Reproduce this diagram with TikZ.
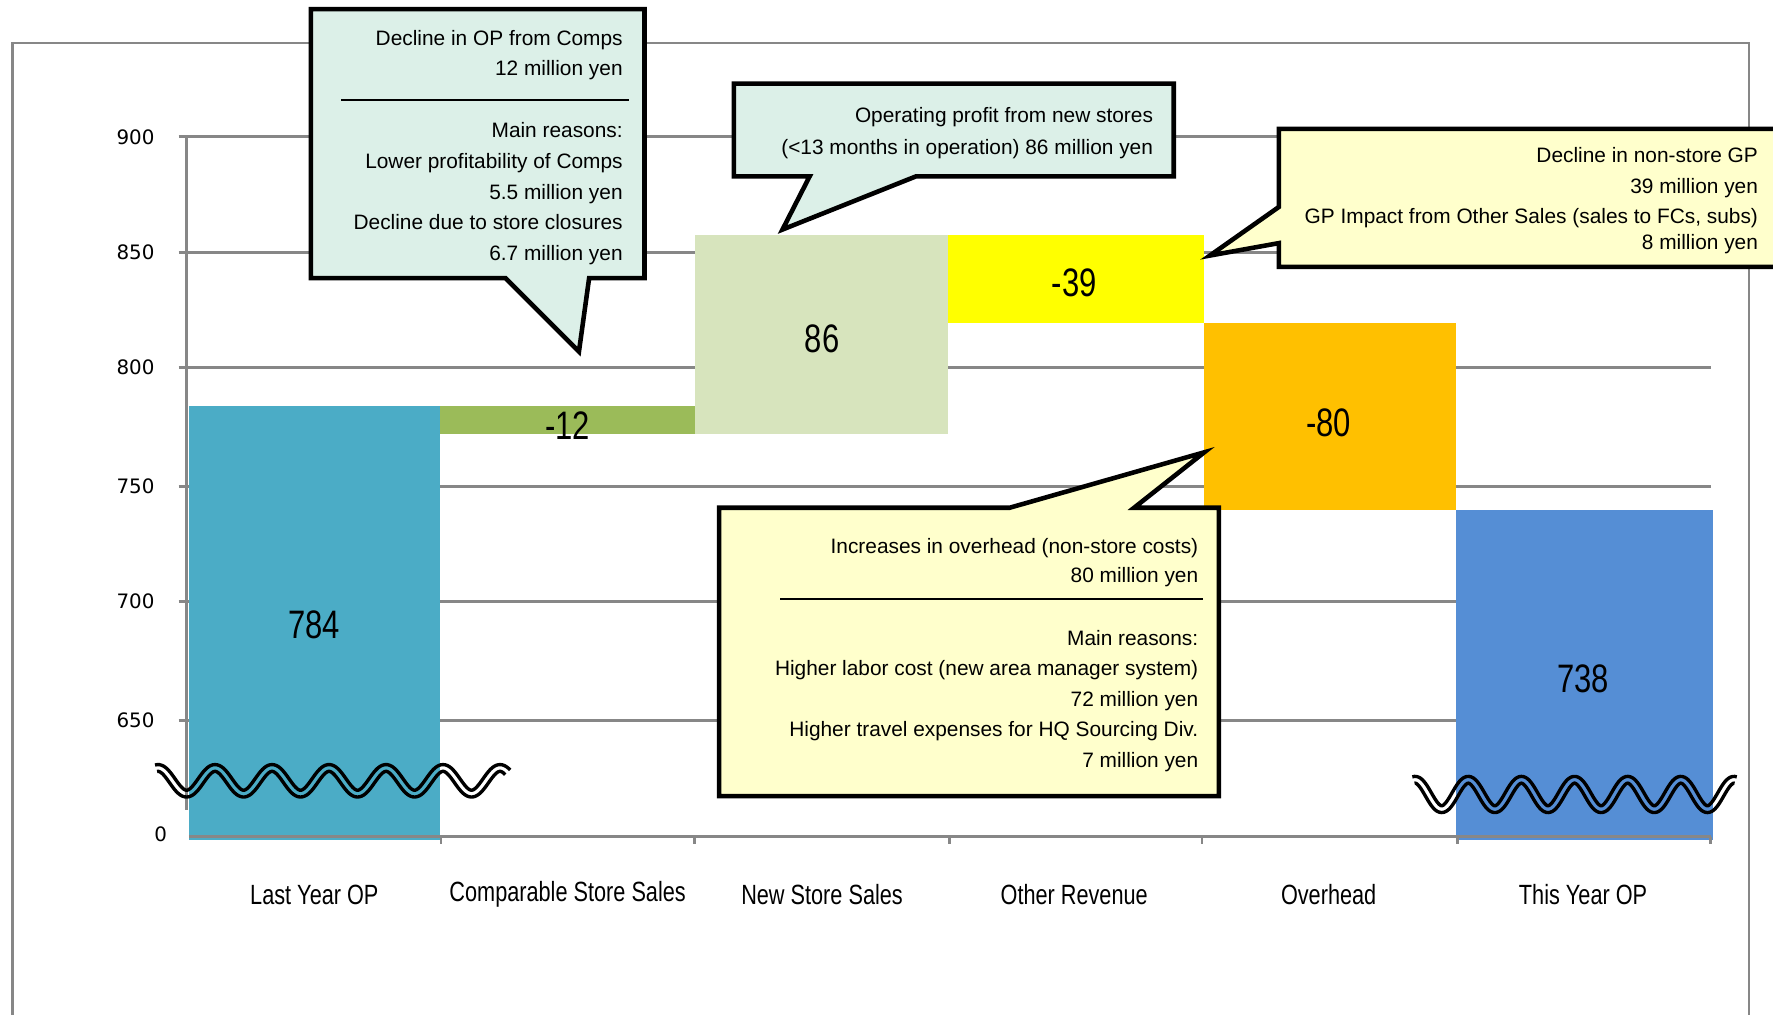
\documentclass[tikz,border=0pt]{standalone}
\usepackage{fontspec}
\setmainfont{Liberation Sans}
\newfontfamily\narrowfont{Liberation Sans}[FakeStretch=0.78]
\newfontfamily\tickfont{DejaVu Sans}

\definecolor{axisgray}{HTML}{878787}
\definecolor{lastop}{HTML}{4BACC6}
\definecolor{compgreen}{HTML}{9BBB59}
\definecolor{newgreen}{HTML}{D7E4BD}
\definecolor{otheryellow}{HTML}{FFFF00}
\definecolor{overorange}{HTML}{FFC000}
\definecolor{thisop}{HTML}{558ED5}
\definecolor{mintnote}{HTML}{DCF0E8}
\definecolor{yellownote}{HTML}{FFFFCC}

\begin{document}
\begin{tikzpicture}[x=0.02cm, y=-0.02cm,
    grid/.style = {draw=axisgray, line width=1.4pt},
    note/.style = {font=\fontsize{10.5}{12}\selectfont, anchor=base east, inner sep=0pt},
    cat/.style = {font=\narrowfont\fontsize{14}{16}\selectfont, inner sep=0pt},
    val/.style = {font=\narrowfont\fontsize{20}{24}\selectfont, inner sep=0pt},
    tick/.style = {font=\tickfont\fontsize{10}{12}\selectfont, anchor=east, inner sep=0pt},
    callout/.style = {draw=black, line width=2.3pt, line join=miter},
    wave/.style = {draw=black, line width=1.7pt}]
    \useasboundingbox (0,0) rectangle (1568,897);
    \clip (0,0) rectangle (1568,897);
    % frame
    \draw [draw=axisgray, line width=1.2pt] (11,920) -- (11,38) -- (1547,38) -- (1547,920);
    % grid and y axis
    \foreach \y/\v in {121/900, 223/850, 325/800, 430/750, 532/700, 637/650} {
        \draw [grid] (158,\y) -- (1513,\y);
        \node [tick] (y\v) at (137,\y) {\v};
    }
    \draw [grid] (165,121) -- (165,716);
    \node [tick] (y0) at (148,738) {0};
    % bars
    \fill [lastop] (167,359) rectangle (389,743);
    \fill [compgreen] (389,359) rectangle (615,384);
    \fill [newgreen] (615,208) rectangle (838,384);
    \fill [otheryellow] (838,208) rectangle (1065,286);
    \fill [overorange] (1065,286) rectangle (1288,451);
    \fill [thisop] (1288,451) rectangle (1515,743);
    \draw [grid] (167,740) -- (1513,740);
    \foreach \x in {390,614,840,1063,1289,1513}
        \draw [grid] (\x,740) -- (\x,746);
    \node [val] (v784) at (278,553) {784};
    \node [val] (v12) at (502,376) {-12};
    \node [val] (v86) at (727,300) {86};
    \node [val] (v39) at (950,250) {-39};
    \node [val] (v80) at (1175,374) {-80};
    \node [val] (v738) at (1400,600) {738};
    \node [cat] (lastyear) at (278,791) {Last Year OP};
    \node [cat] (comps) at (502,791) {Comparable Store Sales};
    \node [cat] (newstore) at (727,791) {New Store Sales};
    \node [cat] (otherrev) at (950,791) {Other Revenue};
    \node [cat] (overhead) at (1175,791) {Overhead};
    \node [cat] (thisyear) at (1400,791) {This Year OP};
    % axis breaks (two parallel waves each)
    \foreach \s in {-3,3} {
        \draw [wave] plot [domain=138:449, samples=240]
            ({\x + \s*1.415*sin((\x-165)*7.1429)/sqrt(1+(1.415*sin((\x-165)*7.1429))^2)},
             {690.5 + 11.35*cos((\x-165)*7.1429) + \s/sqrt(1+(1.415*sin((\x-165)*7.1429))^2)});
        \draw [wave] plot [domain=1250:1535, samples=240]
            ({\x + \s*1.738*sin((\x-1275)*7.6596)/sqrt(1+(1.738*sin((\x-1275)*7.6596))^2)},
             {702.6 + 13*cos((\x-1275)*7.6596) + \s/sqrt(1+(1.738*sin((\x-1275)*7.6596))^2)});
    }
    % comps callout
    \filldraw [callout, fill=mintnote] (275,8) -- (570,8) -- (570,246) -- (521,246) -- (512,311) -- (447,246) -- (275,246) -- cycle;
    \draw [line width=1pt] (302,88) -- (556,88);
    \node [note] (c1) at (551,39.8) {Decline in OP from Comps};
    \node [note] (c2) at (551,67.2) {12 million yen};
    \node [note] (c3) at (551,121.5) {Main reasons:};
    \node [note] (c4) at (551,148.9) {Lower profitability of Comps};
    \node [note] (c5) at (551,176.3) {5.5 million yen};
    \node [note] (c6) at (551,202.8) {Decline due to store closures};
    \node [note] (c7) at (551,230) {6.7 million yen};
    % new stores callout
    \filldraw [callout, fill=mintnote] (649,74) -- (1038,74) -- (1038,156) -- (810,156) -- (692,203) -- (716,156) -- (649,156) -- cycle;
    \node [note] (n1) at (1020,108.5) {Operating profit from new stores};
    \node [note] (n2) at (1020,136.5) {(<13 months in operation) 86 million yen};
    % other revenue callout
    \filldraw [callout, fill=yellownote] (1131,114) -- (1600,114) -- (1600,236) -- (1131,236) -- (1131,215) -- (1070,226) -- (1131,183) -- cycle;
    \node [note] (g1) at (1555,143.5) {Decline in non-store GP};
    \node [note] (g2) at (1555,171.5) {39 million yen};
    \node [note] (g3) at (1555,197.5) {GP Impact from Other Sales (sales to FCs, subs)};
    \node [note] (g4) at (1555,220.5) {8 million yen};
    % overhead callout
    \filldraw [callout, fill=yellownote] (636,449) -- (893,449) -- (1065,400) -- (1003,449) -- (1078,449) -- (1078,704) -- (636,704) -- cycle;
    \draw [line width=1pt] (690,530) -- (1064,530);
    \node [note] (o1) at (1060,489.5) {Increases in overhead (non-store costs)};
    \node [note] (o2) at (1060,515.5) {80 million yen};
    \node [note] (o3) at (1060,570.5) {Main reasons:};
    \node [note] (o4) at (1060,597.5) {Higher labor cost (new area manager system)};
    \node [note] (o5) at (1060,624.5) {72 million yen};
    \node [note] (o6) at (1060,651.5) {Higher travel expenses for HQ Sourcing Div.};
    \node [note] (o7) at (1060,678.5) {7 million yen};
\end{tikzpicture}
\end{document}
